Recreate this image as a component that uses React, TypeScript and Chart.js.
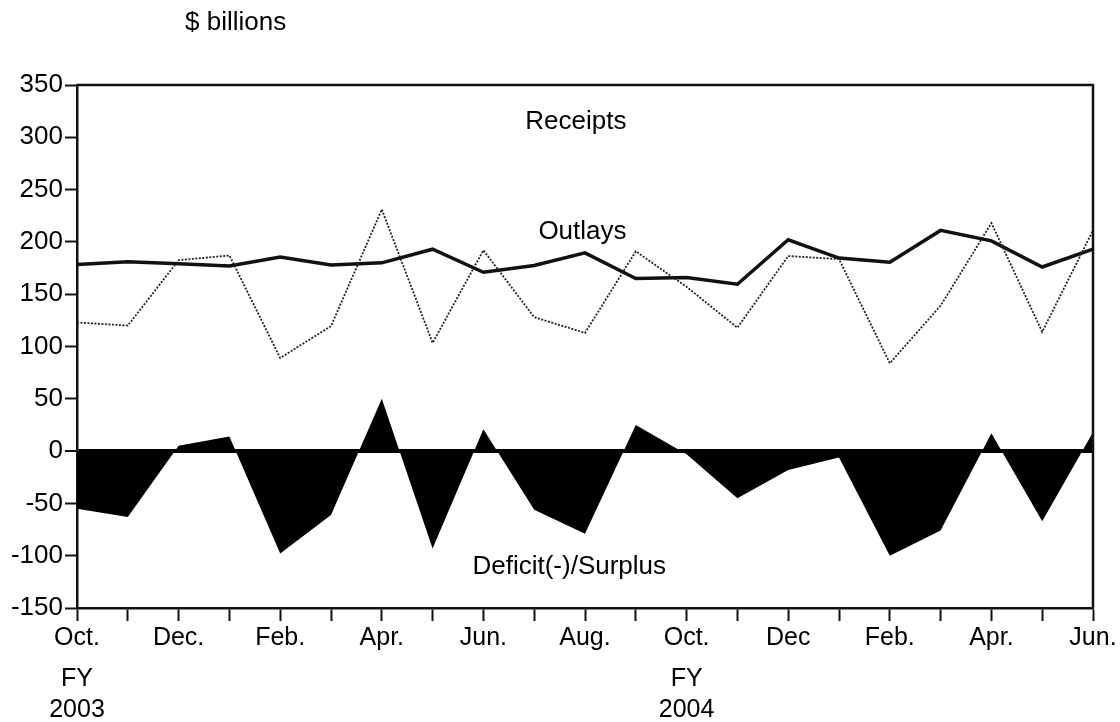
import React, { useEffect, useRef } from "react";
import { Chart, registerables } from "chart.js";

Chart.register(...registerables);

const months = ["Oct.", "Nov.", "Dec.", "Jan.", "Feb.", "Mar.", "Apr.", "May", "Jun.", "Jul.", "Aug.", "Sep.", "Oct.", "Nov.", "Dec", "Jan.", "Feb.", "Mar.", "Apr.", "May", "Jun."];
const shownMonthLabels = ["Oct.", "", "Dec.", "", "Feb.", "", "Apr.", "", "Jun.", "", "Aug.", "", "Oct.", "", "Dec", "", "Feb.", "", "Apr.", "", "Jun."];
const outlays = [178.5, 181, 179, 177, 185.5, 178, 180, 193, 171, 177.5, 189.5, 165, 166, 159.5, 202, 184.5, 180.5, 211, 201, 176, 193];
const receipts = [123, 120, 182.5, 187, 89, 119.5, 231, 103.5, 192, 128, 113, 191, 157, 118, 186.5, 183.5, 84, 139, 218, 114, 211];
const deficit = [-55, -63, 5, 14, -98, -61, 50, -93, 21, -56, -79, 25, -3, -45, -18, -6, -100, -76, 17, -67, 18];
const fiscalYearIndex = [0, 12];
const fiscalYearLabels = ["2003", "2004"];

const FONT = "'Liberation Sans', Arial, Helvetica, sans-serif";

const labelsPlugin = {
  id: "labelsPlugin",
  afterDraw(chart: any) {
    const { ctx, chartArea, scales } = chart;
    const xs = scales.x;
    const ys = scales.y;
    const xAt = (f: number) => {
      const i = Math.floor(f);
      const a = xs.getPixelForValue(i);
      const b = xs.getPixelForValue(Math.min(i + 1, months.length - 1));
      return a + (b - a) * (f - i);
    };
    ctx.save();
    // frame
    ctx.strokeStyle = "#111";
    ctx.lineWidth = 2.5;
    ctx.beginPath();
    ctx.moveTo(chartArea.left, chartArea.top);
    ctx.lineTo(chartArea.right, chartArea.top);
    ctx.lineTo(chartArea.right, chartArea.bottom);
    ctx.stroke();

    ctx.fillStyle = "#000";
    ctx.textBaseline = "middle";
    ctx.textAlign = "center";
    ctx.font = `26px ${FONT}`;
    ctx.fillText("Receipts", xAt(9.82), ys.getPixelForValue(315));
    ctx.fillText("Outlays", xAt(9.95), ys.getPixelForValue(210));
    ctx.fillText("Deficit(-)/Surplus", xAt(9.69), ys.getPixelForValue(-110.5));

    ctx.font = `25px ${FONT}`;
    fiscalYearIndex.forEach((idx, k) => {
      const x = xs.getPixelForValue(idx);
      ctx.fillText("FY", x, chartArea.bottom + 71);
      ctx.fillText(fiscalYearLabels[k], x, chartArea.bottom + 102);
    });

    ctx.textAlign = "left";
    ctx.font = `26px ${FONT}`;
    ctx.fillText("$ billions", 185, 23);
    ctx.restore();
  },
};

export default function App() {
  const ref = useRef<HTMLCanvasElement>(null);
  useEffect(() => {
    if (!ref.current) return;
    const chart = new Chart(ref.current, {
      type: "line",
      data: {
        labels: months,
        datasets: [
          {
            label: "Deficit(-)/Surplus",
            data: deficit,
            borderWidth: 0,
            borderColor: "#000",
            backgroundColor: "#000",
            fill: "origin",
            pointRadius: 0,
            tension: 0,
          },
          {
            label: "Receipts",
            data: receipts,
            borderWidth: 1.8,
            borderColor: "#222",
            borderDash: [2, 1.5],
            fill: false,
            pointRadius: 0,
            tension: 0,
          },
          {
            label: "Outlays",
            data: outlays,
            borderWidth: 3.5,
            borderColor: "#111",
            fill: false,
            pointRadius: 0,
            tension: 0,
          },
        ],
      },
      options: {
        animation: false,
        responsive: true,
        maintainAspectRatio: false,
        layout: { padding: { top: 85, right: 27, left: 0, bottom: 0 } },
        plugins: { legend: { display: false }, tooltip: { enabled: false }, title: { display: false } },
        scales: {
          x: {
            type: "category",
            offset: false,
            border: { display: true, color: "#111", width: 2.5 },
            grid: { drawOnChartArea: false, drawTicks: true, tickLength: 13, tickColor: "#111", tickWidth: 2, color: "#111" },
            ticks: {
              autoSkip: false,
              maxRotation: 0,
              minRotation: 0,
              padding: 2,
              color: "#000",
              font: { family: FONT, size: 25 },
              callback: (_v: any, i: number) => shownMonthLabels[i],
            },
            afterFit: (s: any) => { s.height = 114; },
          },
          y: {
            min: -150,
            max: 350,
            border: { display: true, color: "#111", width: 2.5 },
            grid: {
              drawOnChartArea: true,
              tickLength: 12,
              tickColor: "#111",
              tickWidth: 2,
              color: (c: any) => (c.tick && c.tick.value === 0 ? "#000" : "rgba(0,0,0,0)"),
              lineWidth: (c: any) => (c.tick && c.tick.value === 0 ? 4 : 1),
            },
            ticks: {
              stepSize: 50,
              padding: 2,
              color: "#000",
              font: { family: FONT, size: 26 },
            },
            afterFit: (s: any) => { s.width = 77; },
          },
        },
      },
      plugins: [labelsPlugin],
    });
    return () => chart.destroy();
  }, []);
  return (
    <div style={{ position: "fixed", left: 0, top: 0, width: 1120, height: 722, background: "#fff" }}>
      <canvas ref={ref} />
    </div>
  );
}
